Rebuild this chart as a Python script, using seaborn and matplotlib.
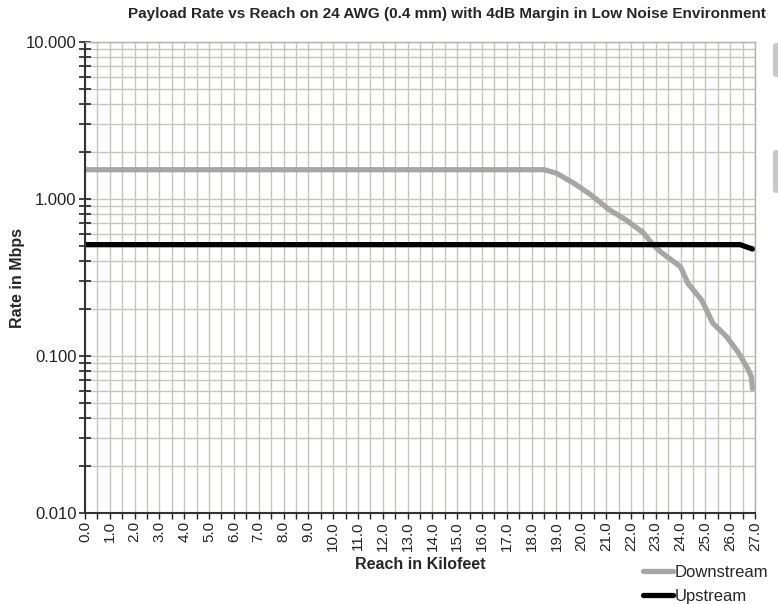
import matplotlib
matplotlib.use("Agg")
import matplotlib.pyplot as plt
import matplotlib.ticker as mticker
from matplotlib import font_manager
from matplotlib.patches import FancyBboxPatch
import seaborn as sns
import pandas as pd

# values
down_reach = [0.0, 18.5, 19.0, 19.7, 20.4, 21.1, 21.8, 22.5, 22.85, 23.2,
              24.0, 24.3, 24.85, 25.3, 25.85, 26.35, 26.7, 26.85, 26.9]
down_rate = [1.536, 1.536, 1.46, 1.26, 1.06, 0.86, 0.735, 0.61, 0.52, 0.46,
             0.37, 0.29, 0.227, 0.162, 0.133, 0.104, 0.0835, 0.074, 0.062]
up_reach = [0.0, 26.4, 26.9]
up_rate = [0.512, 0.512, 0.48]

series_names = ["Downstream", "Upstream"]
series_colors = ["#a6a6a6", "#000000"]
x_ticks = [float(v) for v in range(0, 28)]
y_ticks = [0.01, 0.1, 1.0, 10.0]

df = pd.concat([
    pd.DataFrame({"reach": down_reach, "rate": down_rate, "series": "Downstream"}),
    pd.DataFrame({"reach": up_reach, "rate": up_rate, "series": "Upstream"}),
])

sns.set_theme(style="white")
names = {f.name for f in font_manager.fontManager.ttflist}
base = "Liberation Sans" if "Liberation Sans" in names else "DejaVu Sans"
plt.rcParams["font.family"] = [base, "DejaVu Sans"]

fig = plt.figure(figsize=(7.78, 6.04), dpi=100)
ax = fig.add_axes([85 / 778, 1 - 513 / 604, 670 / 778, 471 / 604])

sns.lineplot(data=df, x="reach", y="rate", hue="series", hue_order=series_names,
             palette=series_colors, linewidth=3.8, sort=False, estimator=None,
             legend=False, ax=ax)
for line in ax.get_lines():
    line.set_solid_capstyle("round")
    line.set_solid_joinstyle("round")

ax.set_yscale("log")
ax.set_ylim(0.01, 10)
ax.set_xlim(0, 27)
ax.yaxis.set_major_locator(mticker.FixedLocator(y_ticks))
ax.yaxis.set_major_formatter(mticker.FormatStrFormatter("%.3f"))
ax.yaxis.set_minor_locator(mticker.LogLocator(base=10, subs=range(2, 10)))
ax.yaxis.set_minor_formatter(mticker.NullFormatter())
ax.xaxis.set_major_locator(mticker.FixedLocator(x_ticks))
ax.xaxis.set_major_formatter(mticker.FormatStrFormatter("%.1f"))
ax.xaxis.set_minor_locator(mticker.MultipleLocator(0.5))

ax.grid(True, which="both", axis="both", color="#c8c4c0", linewidth=1.0)
ax.set_axisbelow(True)

ax.tick_params(axis="y", which="both", direction="inout", length=8, width=1.2,
               colors="#222222", labelsize=12, left=True, pad=2)
ax.tick_params(axis="x", which="both", direction="out", length=4, width=1.0,
               colors="#222222", bottom=True, pad=2)
for lab in ax.get_xticklabels():
    lab.set_rotation(90)
    lab.set_fontsize(11)

for side in ["top", "right"]:
    ax.spines[side].set_color("#b4b0ac")
    ax.spines[side].set_linewidth(1.0)
for side in ["left", "bottom"]:
    ax.spines[side].set_color("#333333")
    ax.spines[side].set_linewidth(1.5)

ax.set_xlabel("Reach in Kilofeet", fontsize=11.5, fontweight="bold", labelpad=4)
ax.set_ylabel("Rate in Mbps", fontsize=11.5, fontweight="bold", labelpad=1)

fig.text(447 / 778, 1 - 14 / 604,
         "Payload Rate vs Reach on 24 AWG (0.4 mm) with 4dB Margin in Low Noise Environment",
         ha="center", va="center", fontsize=11, fontweight="bold")

handles = [plt.Line2D([], [], color=c, linewidth=3.8, solid_capstyle="round")
           for c in series_colors]
fig.legend(handles, series_names, loc="lower right", bbox_to_anchor=(1.0, -0.016),
           frameon=False, fontsize=12, handlelength=1.8, handletextpad=0.1,
           labelspacing=0.5, borderaxespad=0.2)

# clipped grey tabs at the right edge of the original image
for y0, y1 in [(43, 77), (150, 193)]:
    fig.patches.append(FancyBboxPatch((773 / 778, 1 - y1 / 604), 10 / 778, (y1 - y0) / 604,
                                      boxstyle="round,pad=0,rounding_size=0.004",
                                      transform=fig.transFigure, facecolor="#c8c8c8",
                                      edgecolor="none"))

fig.savefig("out.png", dpi=100)
